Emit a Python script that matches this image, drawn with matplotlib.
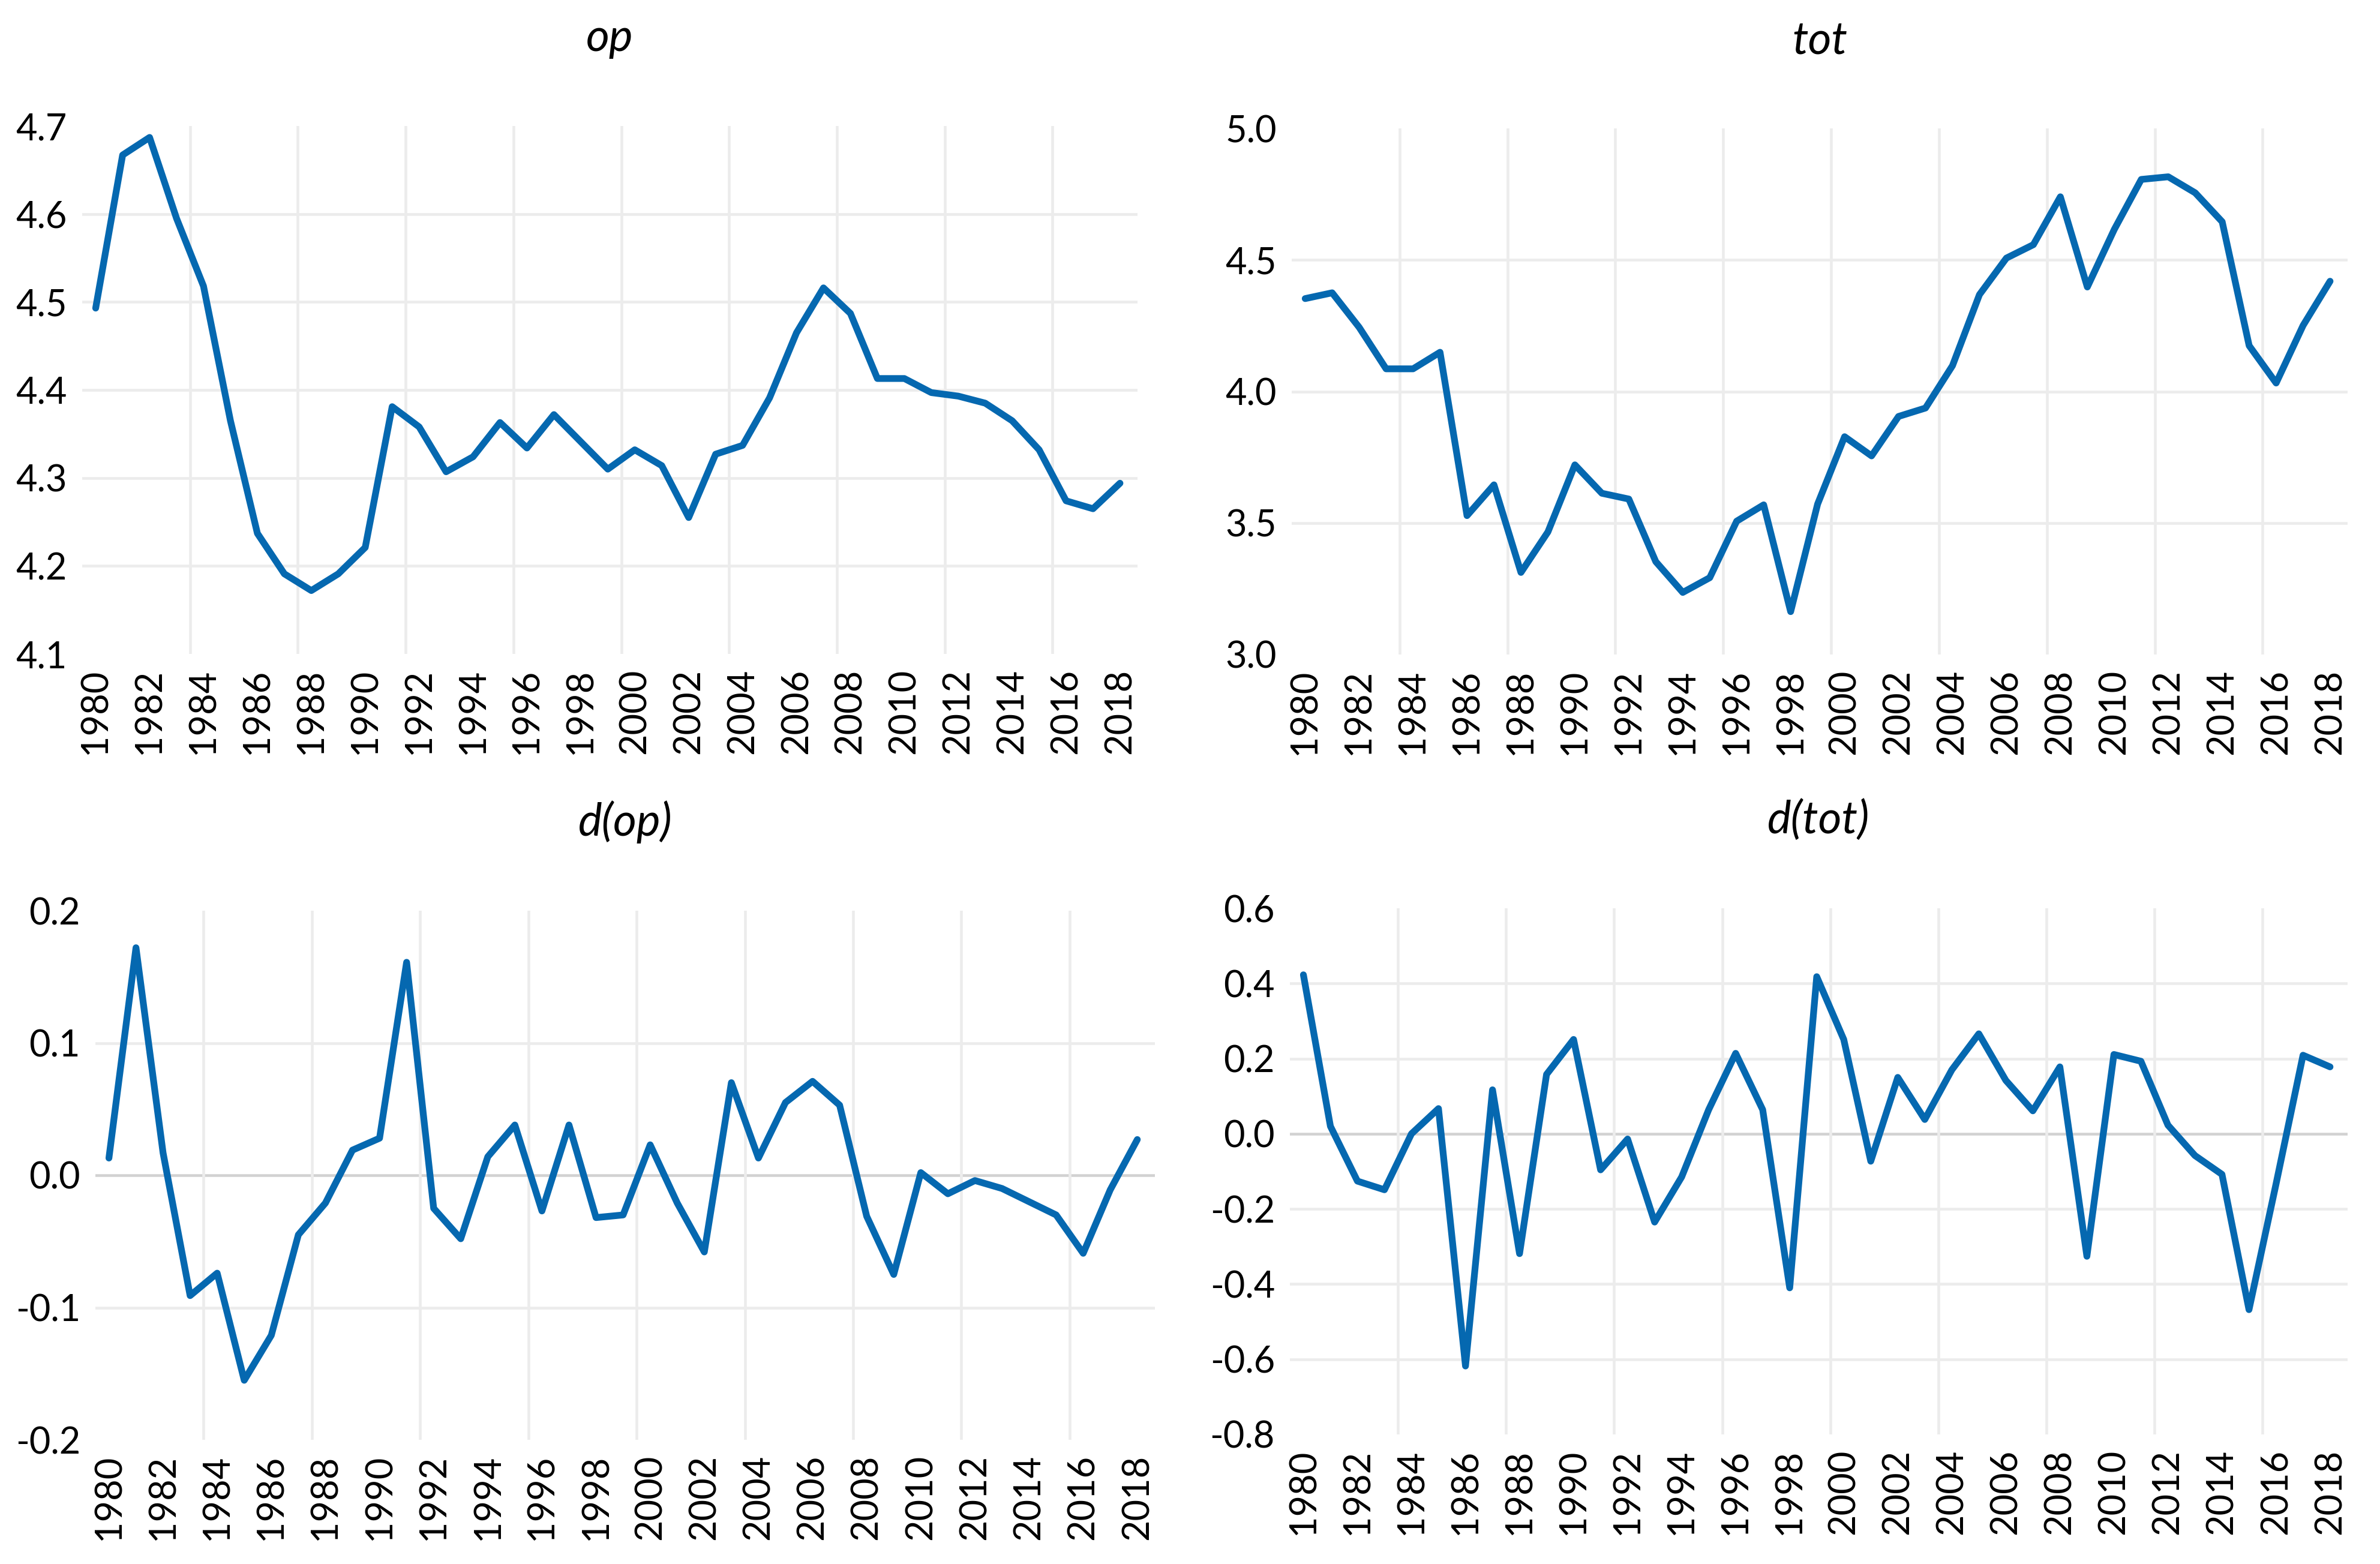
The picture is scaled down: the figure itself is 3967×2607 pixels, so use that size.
import numpy as np
import matplotlib
matplotlib.use("Agg")
import matplotlib.pyplot as plt

# ---------------------------------------------------------------------------
# Data
# ---------------------------------------------------------------------------
years = list(range(1980, 2019))

op = [4.493, 4.667, 4.687, 4.595, 4.518, 4.365, 4.237, 4.191, 4.172, 4.191,
      4.221, 4.381, 4.358, 4.307, 4.324, 4.363, 4.334, 4.372, 4.341, 4.310,
      4.332, 4.314, 4.255, 4.327, 4.337, 4.391, 4.465, 4.516, 4.487, 4.413,
      4.413, 4.397, 4.393, 4.385, 4.365, 4.332, 4.274, 4.265, 4.294]

tot = [4.353, 4.375, 4.244, 4.086, 4.086, 4.149, 3.528, 3.645, 3.312, 3.466,
       3.721, 3.613, 3.591, 3.353, 3.236, 3.292, 3.507, 3.569, 3.163, 3.572,
       3.828, 3.755, 3.905, 3.937, 4.098, 4.368, 4.507, 4.558, 4.740, 4.397,
       4.616, 4.806, 4.816, 4.755, 4.645, 4.174, 4.032, 4.251, 4.419]

d_op = [0.013, 0.172, 0.017, -0.091, -0.074, -0.155, -0.121, -0.045, -0.021, 0.019,
        0.028, 0.161, -0.025, -0.048, 0.014, 0.038, -0.027, 0.038, -0.032, -0.030,
        0.023, -0.021, -0.058, 0.070, 0.013, 0.055, 0.071, 0.053, -0.031, -0.075,
        0.002, -0.014, -0.004, -0.010, -0.020, -0.030, -0.059, -0.011, 0.027]

d_tot = [0.423, 0.020, -0.126, -0.149, 0.000, 0.067, -0.618, 0.117, -0.319, 0.158,
         0.251, -0.096, -0.014, -0.235, -0.115, 0.064, 0.214, 0.064, -0.410, 0.418,
         0.251, -0.073, 0.150, 0.038, 0.170, 0.266, 0.142, 0.061, 0.178, -0.326,
         0.211, 0.193, 0.023, -0.058, -0.108, -0.468, -0.134, 0.209, 0.178]

titles = ["op", "tot", "d(op)", "d(tot)"]
y_ticks = [
    [4.1, 4.2, 4.3, 4.4, 4.5, 4.6, 4.7],
    [3.0, 3.5, 4.0, 4.5, 5.0],
    [-0.2, -0.1, 0.0, 0.1, 0.2],
    [-0.8, -0.6, -0.4, -0.2, 0.0, 0.2, 0.4, 0.6],
]
x_ticks = years[::2]

# ---------------------------------------------------------------------------
# Style
# ---------------------------------------------------------------------------
plt.rcParams['font.family'] = ['Lato', 'DejaVu Sans']
LINE_COLOR = '#0568b0'
GRID_COLOR = '#ececec'
ZERO_COLOR = '#d2d2d2'

W, H = 3967, 2607
DPI = 300
fig = plt.figure(figsize=(W / DPI, H / DPI), dpi=DPI)

# axes boxes in pixels: left, right, top, bottom
boxes = [
    (137, 1896, 210, 1090),
    (2153, 3913, 214, 1091),
    (159, 1925, 1518, 2400),
    (2150, 3913, 1514, 2391),
]
series = [op, tot, d_op, d_tot]

# vertical gridlines sit between years, every four years
vgrid = [y + 0.5 for y in years[3:-1:4]]

for (l, r, t, b), vals, title, yt in zip(boxes, series, titles, y_ticks):
    ax = fig.add_axes([l / W, 1 - b / H, (r - l) / W, (b - t) / H])
    for s in ax.spines.values():
        s.set_visible(False)

    for g in yt[1:-1]:
        col = ZERO_COLOR if (g == 0 and min(yt) < 0) else GRID_COLOR
        ax.axhline(g, color=col, linewidth=1.1, zorder=1)
    for g in vgrid:
        ax.axvline(g, color=GRID_COLOR, linewidth=1.1, zorder=1)

    ax.plot(years, vals, color=LINE_COLOR, linewidth=2.7,
            solid_joinstyle='round', solid_capstyle='round', zorder=3)

    ax.set_xlim(years[0] - 0.5, years[-1] + 0.65)
    ax.set_ylim(yt[0], yt[-1])
    ax.set_yticks(yt)
    ax.set_yticklabels([f"{v:.1f}" for v in yt])
    ax.set_xticks(x_ticks)
    ax.set_xticklabels([str(x) for x in x_ticks], rotation=90)
    ax.tick_params(axis='both', length=0, labelsize=14.7, pad=6)
    ax.set_title(title, fontsize=18, style='italic', pad=30)

fig.savefig("out.png", dpi=DPI, facecolor='white')
